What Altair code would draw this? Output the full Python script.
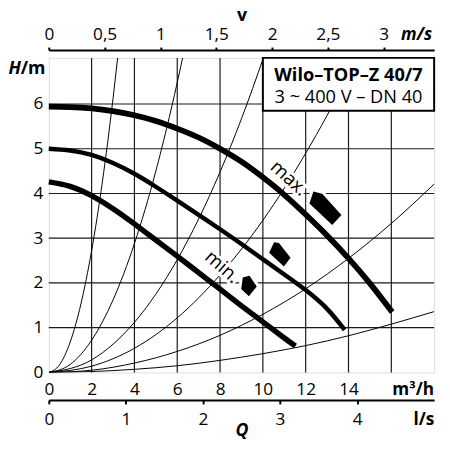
import altair as alt
import pandas as pd

FONT = "Open Sans"

# ---- pump curves (Q in m³/h, H in m) ----
MAX_Q = [0, 1, 2, 3, 4, 5, 6, 7, 8, 9, 10, 11, 12, 13, 14, 15, 16.04]
MAX_H = [5.94, 5.93, 5.9, 5.84, 5.75, 5.62, 5.45, 5.25, 5.0, 4.71, 4.36, 3.97, 3.53, 3.06, 2.55, 1.99, 1.35]
MID_Q = [0, 1, 2, 3, 4, 5, 6, 7, 8, 9, 10, 11, 12, 13, 13.82]
MID_H = [5.0, 4.96, 4.86, 4.68, 4.44, 4.15, 3.84, 3.52, 3.2, 2.87, 2.53, 2.19, 1.84, 1.42, 0.95]
MIN_Q = [0, 1, 2, 3, 4, 5, 6, 7, 8, 9, 10, 11, 11.52]
MIN_H = [4.26, 4.16, 3.95, 3.66, 3.32, 2.96, 2.6, 2.23, 1.86, 1.49, 1.13, 0.77, 0.59]

# ---- system curves (thin lines from origin) ----
SYS_A_Q = [0, 0.5, 1, 1.5, 2, 2.5, 3, 3.22]
SYS_A_H = [0, 0.17, 0.68, 1.53, 2.72, 4.25, 6.12, 7.05]
SYS_B_Q = [0, 1, 2, 3, 4, 5, 6, 6.26]
SYS_B_H = [0, 0.18, 0.72, 1.62, 2.88, 4.5, 6.48, 7.05]
SYS_C_Q = [0, 2, 4, 6, 8, 9, 10.04]
SYS_C_H = [0, 0.28, 1.12, 2.52, 4.48, 5.67, 7.05]
SYS_D_Q = [0, 2, 4, 6, 8, 10, 12, 14, 14.4]
SYS_D_H = [0, 0.14, 0.54, 1.22, 2.18, 3.4, 4.9, 6.66, 7.05]
SYS_E_Q = [0, 2, 4, 6, 8, 10, 12, 14, 16, 18]
SYS_E_H = [0, 0.05, 0.21, 0.47, 0.83, 1.3, 1.87, 2.55, 3.33, 4.21]
SYS_F_Q = [0, 2, 4, 6, 8, 10, 12, 14, 16, 18]
SYS_F_H = [0, 0.02, 0.07, 0.15, 0.27, 0.42, 0.6, 0.82, 1.08, 1.36]

# ---- grid, ticks ----
GRID_Q = [2, 4, 6, 8, 10, 12, 14, 16]
GRID_H = [1, 2, 3, 4, 5, 6]
Q_TICKS = [0, 2, 4, 6, 8, 10, 12, 14, 17]
H_TICKS = [0, 1, 2, 3, 4, 5, 6]
V_TICKS = [0, 0.5, 1, 1.5, 2, 2.5, 3, 3.29]
LS_TICKS = [0, 1, 2, 3, 4, 4.86]

# ---- annotations ----
BOX_Q = [10, 18]
BOX_H = [5.85, 7.03]
BOX_TEXT = ["Wilo–TOP–Z 40/7", "3 ~ 400 V – DN 40"]
BOX_TEXT_Q = [14.0, 14.0]
BOX_TEXT_H = [6.51, 6.02]
LABELS = ["max.", "min."]
LABEL_Q = [11.22, 8.1]
LABEL_H = [4.34, 2.36]
MARK_Q = [12.9, 10.77, 9.31]
MARK_H = [3.67, 2.6, 1.93]

# styles
MARK_PATHS = [
    "M-0.79,-0.24L-0.59,-0.85L-0.14,-0.74L0.84,0.35L0.37,0.85Z",
    "M-0.52,-0.17L-0.27,-0.7L-0.02,-0.67L0.57,0.08L0.23,0.53Z",
    "M-0.27,-0.44L0.07,-0.52L0.44,0.02L0.04,0.52L-0.35,0.15Z",
]
PUMP_WIDTHS = [5.8, 4.5, 5.5]

xs = alt.Scale(domain=[0, 18], nice=False, zero=False)
ys = alt.Scale(domain=[0, 7.03], nice=False, zero=False)

x_axis = alt.Axis(
    values=Q_TICKS, title=None, grid=False, ticks=False, domain=False,
    labelExpr="datum.value == 17 ? 'm³/h' : datum.label",
    labelFontWeight={"condition": {"test": "datum.value == 17", "value": "bold"}, "value": "normal"},
    labelFlush=False, labelOverlap=False, labelPadding=8,
)
y_axis = alt.Axis(
    values=H_TICKS, title="H", grid=False, ticks=False, domain=False,
    labelPadding=6, labelFlush=False, labelOverlap=False,
    titleAngle=0, titleX=-29, titleY=16, titleAlign="right", titleBaseline="alphabetic",
    titleFontWeight="bold", titleFontStyle="italic", titleFontSize=18,
)
xq = alt.X("Q:Q", scale=xs, axis=x_axis)
yh = alt.Y("H:Q", scale=ys, axis=y_axis)

layers = []
layers.append(alt.Chart(pd.DataFrame({"Q": GRID_Q})).mark_rule(color="#1a1a1a", strokeWidth=1.2).encode(x=xq))
layers.append(alt.Chart(pd.DataFrame({"H": GRID_H})).mark_rule(color="#1a1a1a", strokeWidth=1.2).encode(y=yh))

sys_frames = []
for name, q, h in [("A", SYS_A_Q, SYS_A_H), ("B", SYS_B_Q, SYS_B_H), ("C", SYS_C_Q, SYS_C_H),
                   ("D", SYS_D_Q, SYS_D_H), ("E", SYS_E_Q, SYS_E_H), ("F", SYS_F_Q, SYS_F_H)]:
    sys_frames.append(pd.DataFrame({"Q": q, "H": h, "curve": name}))
sys_df = pd.concat(sys_frames, ignore_index=True)
layers.append(alt.Chart(sys_df).mark_line(color="black", strokeWidth=1, interpolate="monotone", clip=True)
              .encode(x=xq, y=yh, detail="curve:N"))

# white halos behind labels and markers
lab_df = pd.DataFrame({"Q": LABEL_Q, "H": LABEL_H, "t": LABELS})
ANGLES = [42, 41]
for i, ang in enumerate(ANGLES):
    d = lab_df.iloc[[i]]
    layers.append(alt.Chart(d).mark_text(font=FONT, fontSize=19, angle=ang, stroke="white", strokeWidth=6,
                                         color="white").encode(x=xq, y=yh, text="t:N"))
for i in range(3):
    d = pd.DataFrame({"Q": [MARK_Q[i]], "H": [MARK_H[i]]})
    layers.append(alt.Chart(d).mark_point(shape=MARK_PATHS[i], size=1600, filled=True, fill="white",
                                          stroke="white", strokeWidth=6, opacity=1).encode(x=xq, y=yh))

for q, h, w in [(MAX_Q, MAX_H, PUMP_WIDTHS[0]), (MID_Q, MID_H, PUMP_WIDTHS[1]), (MIN_Q, MIN_H, PUMP_WIDTHS[2])]:
    layers.append(alt.Chart(pd.DataFrame({"Q": q, "H": h})).mark_line(color="black", strokeWidth=w,
                                                                      interpolate="natural", strokeCap="butt")
                  .encode(x=xq, y=yh))

for i, ang in enumerate(ANGLES):
    d = lab_df.iloc[[i]]
    layers.append(alt.Chart(d).mark_text(font=FONT, fontSize=19, angle=ang, color="black")
                  .encode(x=xq, y=yh, text="t:N"))
for i in range(3):
    d = pd.DataFrame({"Q": [MARK_Q[i]], "H": [MARK_H[i]]})
    layers.append(alt.Chart(d).mark_point(shape=MARK_PATHS[i], size=1600, filled=True, fill="black",
                                          strokeWidth=0, opacity=1).encode(x=xq, y=yh))

box_df = pd.DataFrame({"Q": [BOX_Q[0]], "Q2": [BOX_Q[1]], "H": [BOX_H[0]], "H2": [BOX_H[1]]})
layers.append(alt.Chart(box_df).mark_rect(fill="white", stroke="black", strokeWidth=2)
              .encode(x=xq, x2="Q2:Q", y=yh, y2="H2:Q"))
layers.append(alt.Chart(pd.DataFrame({"Q": [BOX_TEXT_Q[0]], "H": [BOX_TEXT_H[0]], "t": [BOX_TEXT[0]]}))
              .mark_text(font=FONT, fontSize=18.5, fontWeight="bold", baseline="alphabetic", color="black")
              .encode(x=xq, y=yh, text="t:N"))
layers.append(alt.Chart(pd.DataFrame({"Q": [BOX_TEXT_Q[1]], "H": [BOX_TEXT_H[1]], "t": [BOX_TEXT[1]]}))
              .mark_text(font=FONT, fontSize=18.5, baseline="alphabetic", color="black")
              .encode(x=xq, y=yh, text="t:N"))

main = alt.layer(*layers)

# second (label-only) left axis carrying the upright "/m" part of the unit
unit_axis = alt.Axis(
    orient="left", title="/m", labels=False, ticks=False, domain=False, grid=False,
    titleAngle=0, titleX=-29, titleY=16, titleAlign="left", titleBaseline="alphabetic",
    titleFontWeight="bold", titleFontSize=18,
)
unit_layer = alt.Chart(pd.DataFrame({"u": [0]})).mark_point(opacity=0).encode(
    y=alt.Y("u:Q", scale=alt.Scale(domain=[0, 1]), axis=unit_axis))

v_axis = alt.Axis(
    orient="top", values=V_TICKS, title="v", offset=8, grid=False,
    labelExpr="datum.value > 3.1 ? 'm/s' : replace(format(datum.value, '~g'), '.', ',')",
    labelFontWeight={"condition": {"test": "datum.value > 3.1", "value": "bold"}, "value": "normal"},
    labelFontStyle={"condition": {"test": "datum.value > 3.1", "value": "italic"}, "value": "normal"},
    tickOpacity={"condition": {"test": "datum.value > 3.1", "value": 0}, "value": 1},
    tickSize=3, tickWidth=2, domainWidth=2, labelPadding=4, labelFlush=False, labelOverlap=False,
    titleFontWeight="bold", titleFontSize=18, titlePadding=1,
)
v_layer = alt.Chart(pd.DataFrame({"v": [0]})).mark_point(opacity=0).encode(
    x=alt.X("v:Q", scale=alt.Scale(domain=[0, 3.452], nice=False, zero=False), axis=v_axis))

ls_axis = alt.Axis(
    orient="bottom", values=LS_TICKS, title="Q", offset=28, grid=False,
    labelExpr="datum.value > 4.5 ? 'l/s' : datum.label",
    labelFontWeight={"condition": {"test": "datum.value > 4.5", "value": "bold"}, "value": "normal"},
    tickOpacity={"condition": {"test": "datum.value > 4.5", "value": 0}, "value": 1},
    tickSize=4, tickWidth=2, domainWidth=2, labelPadding=7, labelFlush=False, labelOverlap=False,
    titleFontWeight="bold", titleFontStyle="italic", titleFontSize=18,
    titleY=36, titleBaseline="alphabetic",
)
ls_layer = alt.Chart(pd.DataFrame({"ls": [0]})).mark_point(opacity=0).encode(
    x=alt.X("ls:Q", scale=alt.Scale(domain=[0, 5.0], nice=False, zero=False), axis=ls_axis))

chart = (
    alt.layer(main, unit_layer, v_layer, ls_layer)
    .resolve_scale(x="independent", y="independent")
    .properties(width=392, height=320, autosize=alt.AutoSizeParams(type="none"),
                padding={"left": 41.5, "top": 47, "right": 8, "bottom": 67})
    .configure_view(stroke="black", strokeWidth=2.5)
    .configure(font=FONT)
    .configure_axis(labelFont=FONT, titleFont=FONT, labelFontSize=17.5, labelColor="black",
                    titleColor="black", domainColor="black", tickColor="black")
)

chart.save("out.html", embed_options={"renderer": "svg", "actions": False})
